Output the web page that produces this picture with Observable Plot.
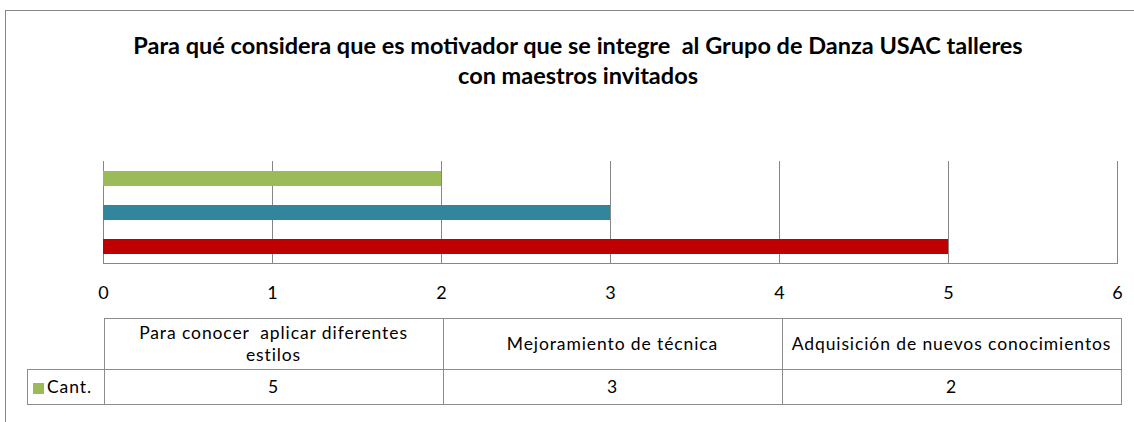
<!DOCTYPE html>
<html><head><meta charset="utf-8">
<script src="https://cdn.jsdelivr.net/npm/d3@7"></script>
<script src="https://cdn.jsdelivr.net/npm/@observablehq/plot@0.6"></script>
<style>
body{margin:0;background:#fff;}
#wrap{position:relative;width:1134px;height:422px;overflow:hidden;font-family:Lato, sans-serif;background:#fff;}
#frame{position:absolute;left:5px;top:10px;width:1200px;height:600px;border:1px solid #868686;box-sizing:border-box;}
#title{position:absolute;left:0;top:30px;width:1156px;text-align:center;font-weight:bold;font-size:23.5px;line-height:30px;color:#000;white-space:pre;}
#plot{position:absolute;left:0;top:150px;}
#tbl{position:absolute;left:27px;top:318px;border-collapse:collapse;font-size:17.5px;color:#000;letter-spacing:0.9px;}
#tbl td{border:1px solid #8c8c8c;text-align:center;padding:0;white-space:pre;line-height:22px;}
#tbl td.blank{border:none;border-bottom:1px solid #8c8c8c;}
.sw{display:inline-block;width:11px;height:11px;margin-right:3px;vertical-align:-1px;}
</style></head>
<body>
<div id="wrap">
  <div id="frame"></div>
  <div id="title">Para qué considera que es motivador que se integre  al Grupo de Danza USAC talleres
con maestros invitados</div>
  <div id="plot"></div>
  <table id="tbl"></table>
</div>
<script>
// ---- data ----
const categories = ["Para conocer  aplicar diferentes estilos", "Mejoramiento de técnica", "Adquisición de nuevos conocimientos"];
const categoryLabels = ["Para conocer  aplicar diferentes\nestilos", "Mejoramiento de técnica", "Adquisición de nuevos conocimientos"];
const values = [5, 3, 2];
const xTicks = [0, 1, 2, 3, 4, 5, 6];
const seriesName = "Cant.";

// ---- styles ----
const barColors = ["#C00000", "#31859C", "#9BBB59"];
const seriesColor = "#9BBB59";
const gridColor = "#868686";

const rows = categories.map((c, i) => ({category: c, value: values[i]}));

const chart = Plot.plot({
  width: 1134, height: 160,
  marginTop: 11, marginBottom: 47, marginLeft: 103, marginRight: 17,
  style: {fontFamily: "Lato, sans-serif", fontSize: "18px", color: "#000", background: "transparent", overflow: "visible"},
  x: {domain: [0, 6], ticks: xTicks, tickSize: 0, tickPadding: 23, label: null, tickFormat: d => String(d)},
  y: {domain: categories.slice().reverse(), axis: null, paddingInner: 0.57, paddingOuter: 0.285},
  color: {domain: categories, range: barColors},
  marks: [
    Plot.ruleX(xTicks, {stroke: gridColor, strokeWidth: 1}),
    Plot.barX(rows, {x: "value", y: "category", fill: "category"}),
    Plot.frame({anchor: "bottom", stroke: gridColor})
  ]
});
document.getElementById("plot").appendChild(chart);

// ---- data table ----
const tbl = document.getElementById("tbl");
const tr1 = document.createElement("tr");
const blank = document.createElement("td");
blank.className = "blank";
blank.style.width = "76px";
blank.style.height = "50px";
tr1.appendChild(blank);
categoryLabels.forEach(l => {
  const td = document.createElement("td");
  td.style.width = "338px";
  td.textContent = l;
  tr1.appendChild(td);
});
tbl.appendChild(tr1);
const tr2 = document.createElement("tr");
const head = document.createElement("td");
head.style.height = "34px";
head.style.textAlign = "left";
head.style.paddingLeft = "5px";
head.innerHTML = `<span class="sw" style="background:${seriesColor}"></span>`;
head.appendChild(document.createTextNode(seriesName));
tr2.appendChild(head);
values.forEach(v => {
  const td = document.createElement("td");
  td.textContent = v;
  tr2.appendChild(td);
});
tbl.appendChild(tr2);
</script>
</body></html>
